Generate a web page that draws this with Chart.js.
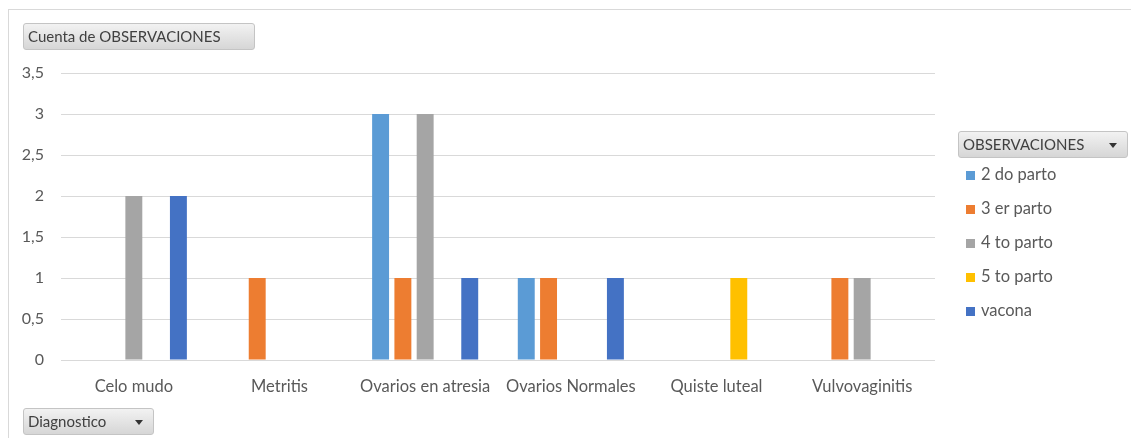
<!DOCTYPE html>
<html>
<head>
<meta charset="utf-8">
<script src="https://cdn.jsdelivr.net/npm/chart.js@4"></script>
<style>
  body { margin: 0; background: #fff; font-family: Lato, "Open Sans", sans-serif; }
  #wrap { position: relative; width: 1131px; height: 438px; overflow: hidden; }
  #frame { position: absolute; left: 8px; top: 9px; width: 1140px; height: 440px; border: 1px solid #d9d9d9; box-sizing: border-box; }
  canvas { position: absolute; left: 0; top: 0; }
  .btn {
    position: absolute; box-sizing: border-box; height: 27px;
    border: 1px solid #c4c4c4; border-radius: 3px;
    background: linear-gradient(#f2f2f2, #d6d6d6);
    color: #404040; font-size: 15px; line-height: 25px; padding-left: 4px;
  }
  .btn .arrow { position: absolute; right: 10px; top: 11px; width: 0; height: 0;
    border-left: 4px solid transparent; border-right: 4px solid transparent; border-top: 5px solid #333; }
  #legend { position: absolute; left: 966px; top: 164px; }
  .item { height: 34px; font-size: 16.5px; color: #595959; display: flex; align-items: flex-start; }
  .item span.sw { width: 9px; height: 9px; margin-right: 6px; margin-top: 7px; }
</style>
</head>
<body>
<div id="wrap">
  <div id="frame"></div>
  <canvas id="chart" width="1131" height="438"></canvas>
  <div class="btn" style="left:23px;top:23px;width:232px;">Cuenta de OBSERVACIONES</div>
  <div class="btn" style="left:958px;top:131px;width:170px;">OBSERVACIONES<span class="arrow"></span></div>
  <div class="btn" style="left:23px;top:408px;width:131px;">Diagnostico<span class="arrow"></span></div>
  <div id="legend"></div>
</div>
<script>
const categories = ["Celo mudo", "Metritis", "Ovarios en atresia", "Ovarios Normales", "Quiste luteal", "Vulvovaginitis"];
const seriesNames = ["2 do parto", "3 er parto", "4 to parto", "5 to parto", "vacona"];
const seriesColors = ["#5b9bd5", "#ed7d31", "#a5a5a5", "#ffc000", "#4472c4"];
const parto2 = [null, null, 3, 1, null, null];
const parto3 = [null, 1, 1, 1, null, 1];
const parto4 = [2, null, 3, null, null, 1];
const parto5 = [null, null, null, null, 1, null];
const vacona = [2, null, 1, 1, null, null];
const yTicks = [0, 0.5, 1, 1.5, 2, 2.5, 3, 3.5];

const values = [parto2, parto3, parto4, parto5, vacona];

const datasets = seriesNames.map((name, i) => ({
  label: name,
  data: values[i],
  backgroundColor: seriesColors[i],
  borderWidth: 0,
  barPercentage: 0.76,
  categoryPercentage: 0.765,
}));

document.getElementById("legend").innerHTML = seriesNames
  .map((n, i) => `<div class="item"><span class="sw" style="background:${seriesColors[i]}"></span>${n}</div>`)
  .join("");

new Chart(document.getElementById("chart"), {
  type: "bar",
  data: { labels: categories, datasets },
  options: {
    responsive: false,
    animation: false,
    layout: { padding: { left: 0, top: 73, right: 196, bottom: 38 } },
    plugins: { legend: { display: false }, tooltip: { enabled: false } },
    scales: {
      x: {
        grid: { display: false },
        border: { display: false },
        ticks: { color: "#595959", font: { family: "Lato", size: 16.5 }, padding: 9, maxRotation: 0, autoSkip: false },
        afterFit: (s) => { s.height = 40; },
      },
      y: {
        min: 0,
        max: 3.5,
        afterBuildTicks: (s) => { s.ticks = yTicks.map((v) => ({ value: v })); },
        ticks: {
          color: "#595959",
          font: { family: "Lato", size: 16 },
          padding: 17,
          callback: (v) => String(v).replace(".", ","),
        },
        grid: { color: "#d9d9d9", drawTicks: false, lineWidth: 1 },
        border: { display: false },
        afterFit: (s) => { s.width = 61; },
      },
    },
  },
});
</script>
</body>
</html>
